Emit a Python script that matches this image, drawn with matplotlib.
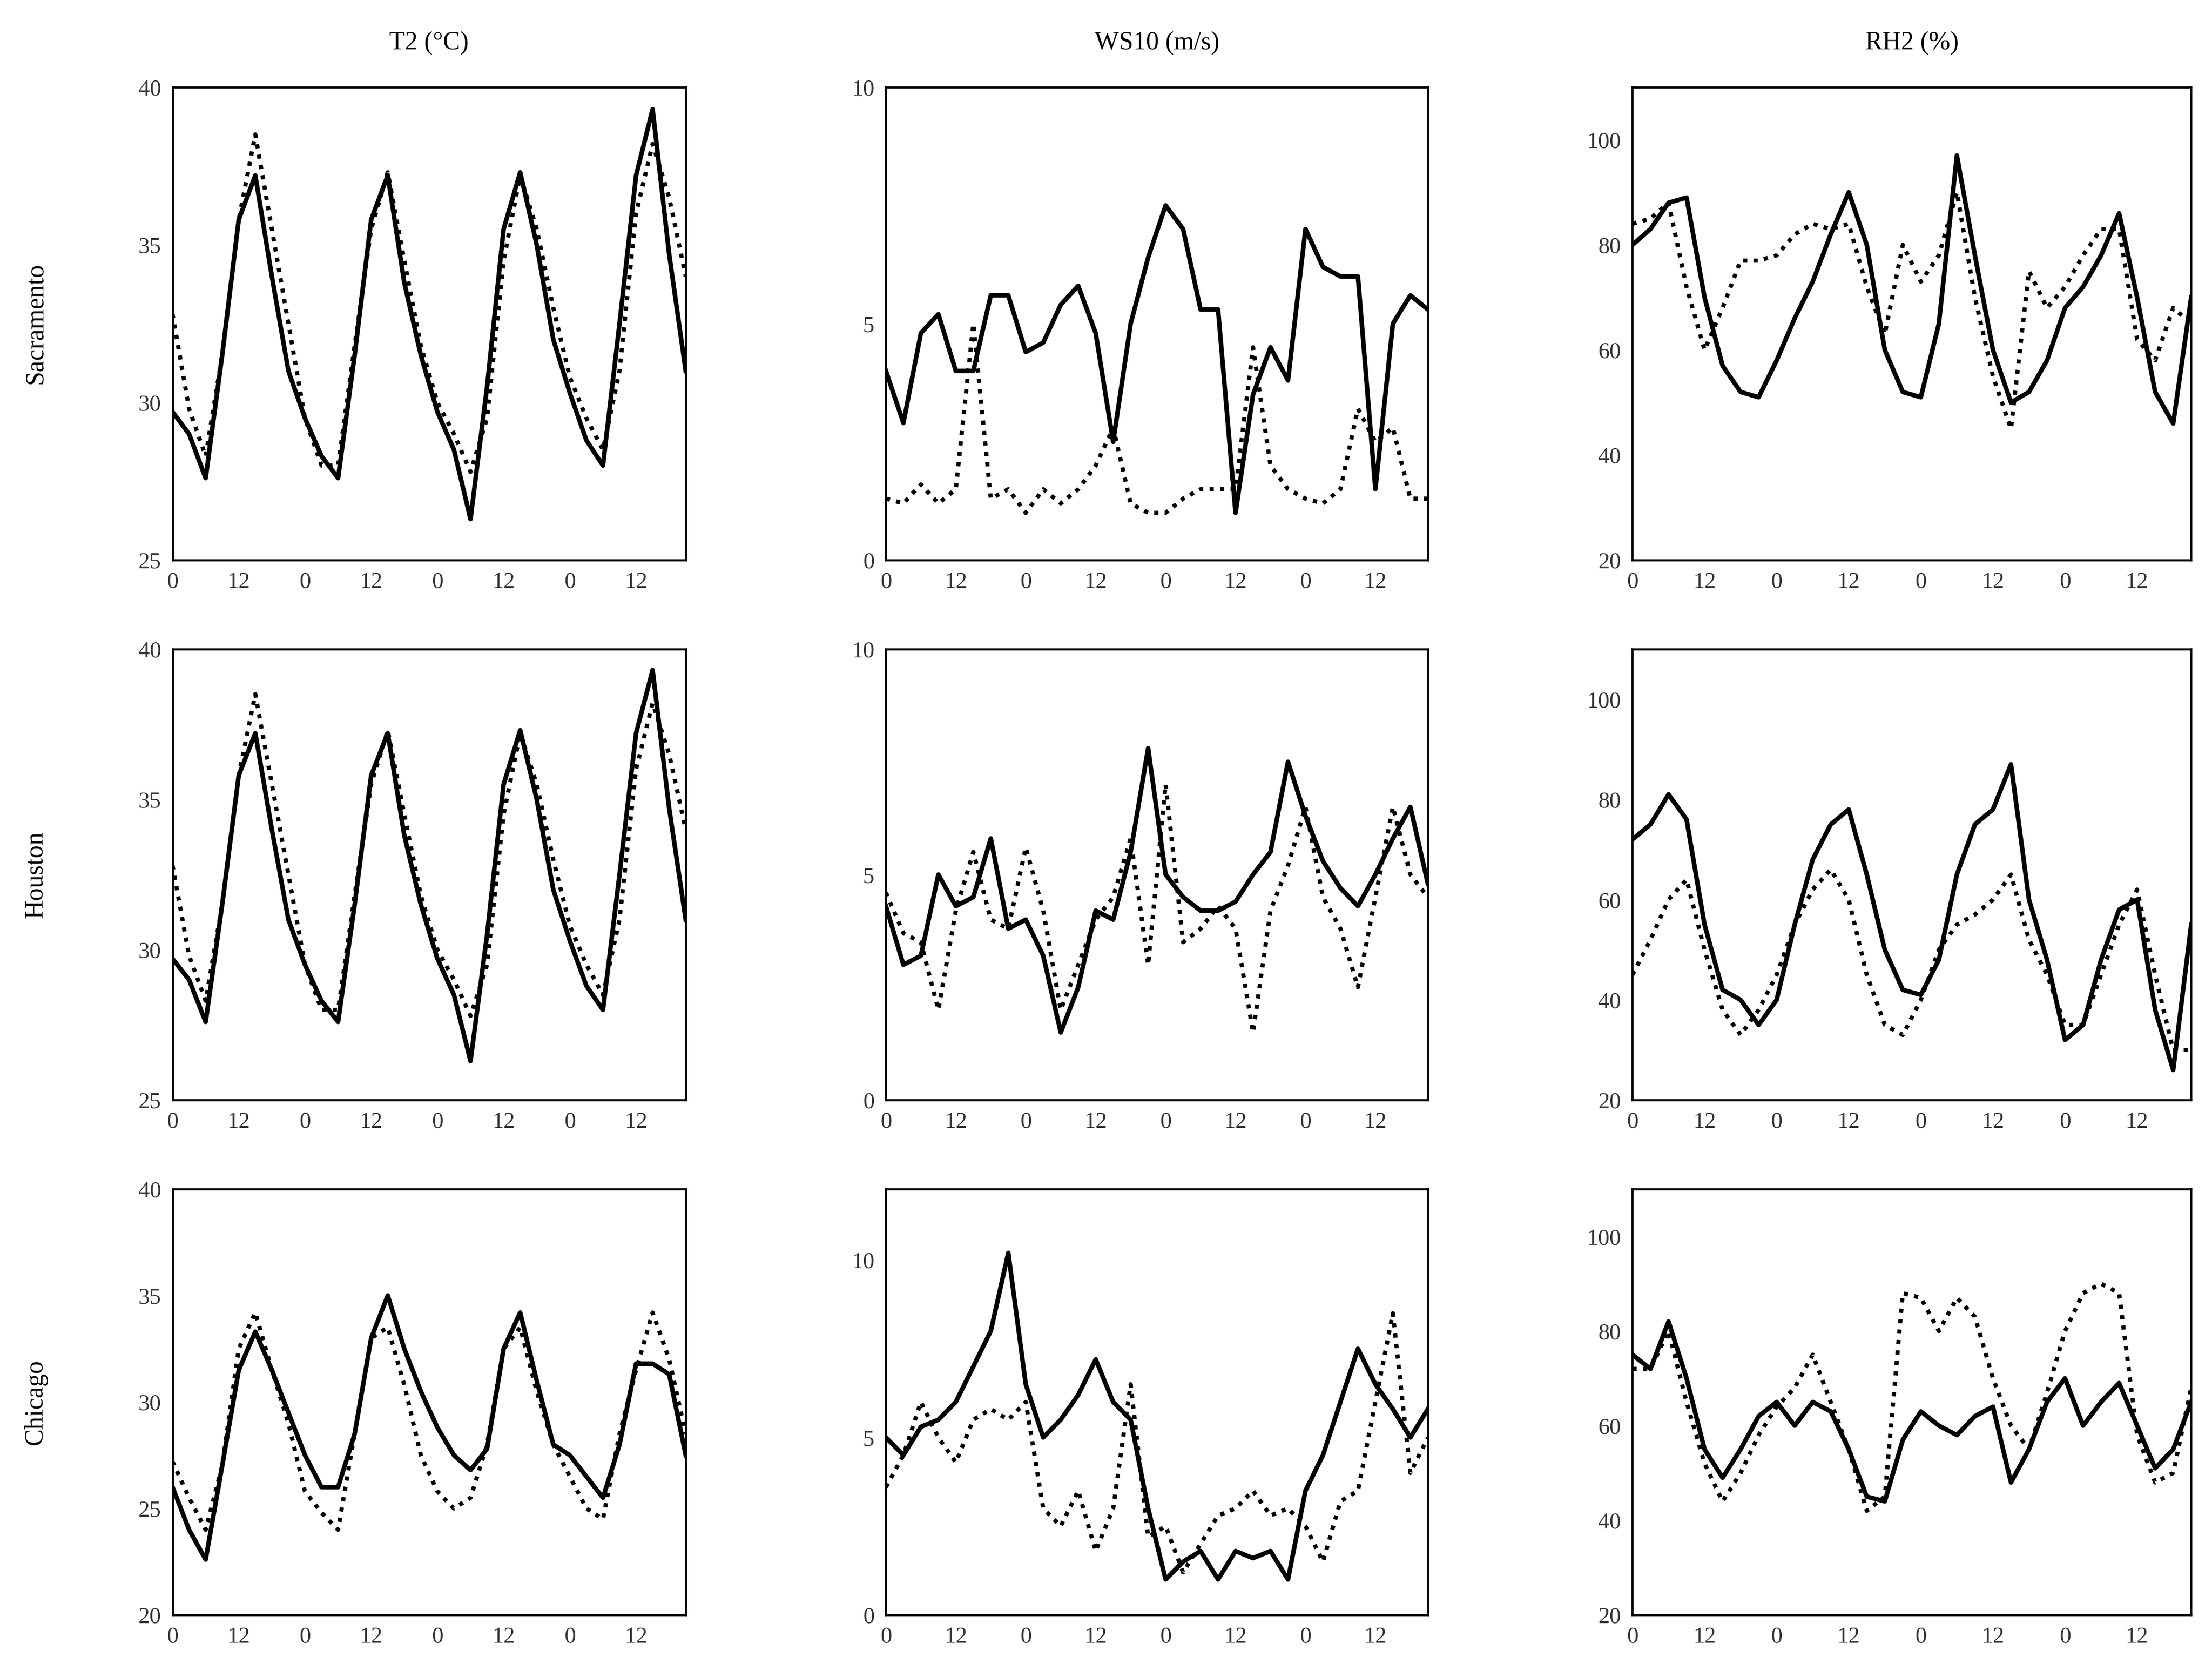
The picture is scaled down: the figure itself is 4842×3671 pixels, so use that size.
import matplotlib
matplotlib.use("Agg")
import matplotlib.pyplot as plt
import numpy as np

plt.rcParams['font.family'] = ['Liberation Serif', 'DejaVu Serif']

hours = np.arange(0, 94, 3)
tick_pos = [0, 12, 24, 36, 48, 60, 72, 84]
tick_lab = ["0", "12", "0", "12", "0", "12", "0", "12"]

col_titles = ["T2 (°C)", "WS10 (m/s)", "RH2 (%)"]
row_titles = ["Sacramento", "Houston", "Chicago"]

sac_t2_solid = [29.7, 29.0, 27.6, 31.5, 35.8, 37.2, 34.0, 31.0, 29.5, 28.3, 27.6, 31.5, 35.8, 37.2, 33.8, 31.5,
                29.7, 28.5, 26.3, 30.5, 35.5, 37.3, 35.0, 32.0, 30.3, 28.8, 28.0, 32.5, 37.2, 39.3, 34.7, 31.0]
sac_t2_dot = [32.8, 29.8, 28.3, 31.5, 35.8, 38.5, 35.5, 32.5, 29.5, 28.0, 28.0, 31.8, 35.5, 37.3, 34.5, 31.8,
              30.0, 29.0, 27.8, 29.5, 34.5, 37.2, 35.5, 33.0, 30.8, 29.5, 28.5, 31.0, 36.0, 38.2, 36.5, 34.0]
hou_t2_solid = list(sac_t2_solid)
hou_t2_dot = list(sac_t2_dot)
chi_t2_solid = [26.0, 24.0, 22.6, 27.0, 31.5, 33.3, 31.5, 29.5, 27.5, 26.0, 26.0, 28.5, 33.0, 35.0, 32.5, 30.5,
                28.8, 27.5, 26.8, 27.8, 32.5, 34.2, 31.0, 28.0, 27.5, 26.5, 25.5, 28.0, 31.8, 31.8, 31.3, 27.5]
chi_t2_dot = [27.2, 25.5, 24.0, 27.0, 32.5, 34.2, 31.5, 29.0, 25.8, 24.8, 24.0, 28.5, 33.0, 33.5, 30.8, 27.5,
              25.8, 25.0, 25.5, 28.0, 32.5, 33.5, 30.5, 28.0, 26.5, 25.0, 24.5, 28.5, 31.5, 34.2, 32.0, 28.5]

sac_ws_solid = [4.0, 2.9, 4.8, 5.2, 4.0, 4.0, 5.6, 5.6, 4.4, 4.6, 5.4, 5.8, 4.8, 2.5, 5.0, 6.4,
                7.5, 7.0, 5.3, 5.3, 1.0, 3.5, 4.5, 3.8, 7.0, 6.2, 6.0, 6.0, 1.5, 5.0, 5.6, 5.3]
sac_ws_dot = [1.3, 1.2, 1.6, 1.2, 1.5, 5.0, 1.3, 1.5, 1.0, 1.5, 1.2, 1.5, 2.0, 2.8, 1.2, 1.0,
              1.0, 1.3, 1.5, 1.5, 1.5, 4.5, 2.0, 1.5, 1.3, 1.2, 1.5, 3.2, 2.5, 2.8, 1.3, 1.3]
hou_ws_solid = [4.3, 3.0, 3.2, 5.0, 4.3, 4.5, 5.8, 3.8, 4.0, 3.2, 1.5, 2.5, 4.2, 4.0, 5.5, 7.8,
                5.0, 4.5, 4.2, 4.2, 4.4, 5.0, 5.5, 7.5, 6.3, 5.3, 4.7, 4.3, 5.0, 5.8, 6.5, 4.8]
hou_ws_dot = [4.6, 3.7, 3.5, 2.0, 4.2, 5.5, 4.0, 3.8, 5.6, 4.2, 2.0, 3.0, 4.0, 4.5, 5.8, 3.0,
              7.0, 3.5, 3.8, 4.3, 3.8, 1.5, 4.2, 5.2, 6.5, 4.5, 3.8, 2.5, 4.5, 6.5, 5.0, 4.5]
chi_ws_solid = [5.0, 4.5, 5.3, 5.5, 6.0, 7.0, 8.0, 10.2, 6.5, 5.0, 5.5, 6.2, 7.2, 6.0, 5.5, 3.0,
                1.0, 1.5, 1.8, 1.0, 1.8, 1.6, 1.8, 1.0, 3.5, 4.5, 6.0, 7.5, 6.5, 5.8, 5.0, 5.8]
chi_ws_dot = [3.6, 4.5, 6.0, 5.0, 4.3, 5.5, 5.8, 5.5, 6.0, 3.0, 2.5, 3.5, 1.8, 3.0, 6.5, 2.2,
              2.5, 1.2, 2.0, 2.8, 3.0, 3.5, 2.8, 3.0, 2.5, 1.5, 3.2, 3.5, 6.0, 8.5, 4.0, 5.0]

sac_rh_solid = [80, 83, 88, 89, 70, 57, 52, 51, 58, 66, 73, 82, 90, 80, 60, 52,
                51, 65, 97, 78, 60, 50, 52, 58, 68, 72, 78, 86, 70, 52, 46, 70]
sac_rh_dot = [84, 85, 88, 72, 60, 68, 77, 77, 78, 82, 84, 83, 84, 72, 63, 80,
              73, 78, 90, 70, 55, 45, 75, 68, 72, 78, 83, 83, 62, 58, 68, 65]
hou_rh_solid = [72, 75, 81, 76, 55, 42, 40, 35, 40, 55, 68, 75, 78, 65, 50, 42,
                41, 48, 65, 75, 78, 87, 60, 48, 32, 35, 48, 58, 60, 38, 26, 55]
hou_rh_dot = [45, 52, 60, 64, 50, 38, 33, 38, 45, 55, 62, 66, 60, 45, 35, 33,
              40, 50, 55, 57, 60, 65, 52, 45, 35, 35, 45, 55, 62, 45, 30, 30]
chi_rh_solid = [75, 72, 82, 70, 55, 49, 55, 62, 65, 60, 65, 63, 55, 45, 44, 57,
                63, 60, 58, 62, 64, 48, 55, 65, 70, 60, 65, 69, 60, 51, 55, 65]
chi_rh_dot = [72, 72, 80, 65, 52, 44, 50, 58, 64, 68, 75, 65, 55, 42, 45, 88,
              87, 80, 87, 83, 70, 60, 55, 67, 80, 88, 90, 88, 58, 48, 50, 68]

panels = [
    [(sac_t2_solid, sac_t2_dot), (sac_ws_solid, sac_ws_dot), (sac_rh_solid, sac_rh_dot)],
    [(hou_t2_solid, hou_t2_dot), (hou_ws_solid, hou_ws_dot), (hou_rh_solid, hou_rh_dot)],
    [(chi_t2_solid, chi_t2_dot), (chi_ws_solid, chi_ws_dot), (chi_rh_solid, chi_rh_dot)],
]
ylims = [
    [(25, 40, [25, 30, 35, 40]), (0, 10, [0, 5, 10]), (20, 110, [20, 40, 60, 80, 100])],
    [(25, 40, [25, 30, 35, 40]), (0, 10, [0, 5, 10]), (20, 110, [20, 40, 60, 80, 100])],
    [(20, 40, [20, 25, 30, 35, 40]), (0, 12, [0, 5, 10]), (20, 110, [20, 40, 60, 80, 100])],
]

col_x = [(0.078, 0.232), (0.4005, 0.245), (0.738, 0.2526)]
row_y = [(0.666, 0.282), (0.344, 0.269), (0.037, 0.254)]

fig = plt.figure(figsize=(4842 / 300, 3671 / 300), dpi=300)
for r in range(3):
    for c in range(3):
        left, w = col_x[c]
        bottom, h = row_y[r]
        ax = fig.add_axes([left, bottom, w, h])
        solid, dot = panels[r][c]
        ax.plot(hours, solid, color="black", lw=2.4)
        ax.plot(hours, dot, color="black", lw=2.2, linestyle=(0, (1, 1.5)))
        lo, hi, ticks = ylims[r][c]
        ax.set_ylim(lo, hi)
        ax.set_yticks(ticks)
        ax.set_xlim(0, 93)
        ax.set_xticks(tick_pos)
        ax.set_xticklabels(tick_lab)
        ax.tick_params(length=0, labelsize=12, pad=6, colors="#333333")
        for s in ax.spines.values():
            s.set_linewidth(1.1)
        if r == 0:
            ax.set_title(col_titles[c], fontsize=13.5, pad=20)
        if c == 0:
            fig.text(0.016, bottom + h / 2, row_titles[r], rotation=90,
                     ha="center", va="center", fontsize=13.5)

fig.savefig("out.png", dpi=300)
